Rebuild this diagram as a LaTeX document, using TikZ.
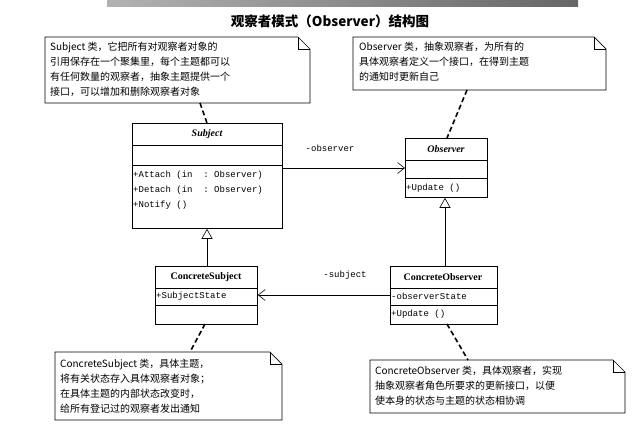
\documentclass[tikz,border=0pt]{standalone}
\usepackage{fontspec}
\setmainfont{Liberation Serif}
\setmonofont{Liberation Mono}
\newfontfamily\cjk{Noto Sans CJK SC}
\usetikzlibrary{arrows.meta,shapes.multipart}
\begin{document}
\begin{tikzpicture}[x=1pt,y=-1pt,
  box/.style={draw,line width=0.8pt,anchor=north west,inner sep=0pt},
  note/.style={draw,line width=0.7pt},
  mem/.style={anchor=west,font=\ttfamily\fontsize{9}{10}\selectfont,inner sep=1pt},
  ttl/.style={anchor=center,font=\bfseries\fontsize{10}{11}\selectfont},
  ntext/.style={anchor=north west,align=left,font=\cjk\fontsize{10}{15}\selectfont,inner sep=0pt},
  dsh/.style={line width=1.6pt,dash pattern=on 5pt off 3pt},
  assoc/.style={line width=0.6pt,-{Straight Barb[length=7pt,width=11pt]}},
  gen/.style={line width=0.6pt,-{Triangle[open,length=10pt,width=11pt]}}]
\useasboundingbox (0,0) rectangle (639,432);
\fill[left color=gray!60,right color=gray!80!black] (107,0) rectangle (578,6);
\node[font=\cjk\bfseries\fontsize{13.5}{15}\selectfont] (title) at (330,21) {观察者模式（\textbf{Observer}）结构图};
\newcommand\notebox[5]{%
  \draw[note] (#1,#2) -- (#3-12,#2) -- (#3,#2+12) -- (#3,#4) -- (#1,#4) -- cycle;
  \draw[note] (#3-12,#2) -- (#3-12,#2+12) -- (#3,#2+12);
  \coordinate (#5) at ({(#1+#3)/2},{(#2+#4)/2});}
\notebox{45}{37}{310}{103}{n1}
\notebox{353}{37}{606}{90}{n2}
\notebox{55}{352}{282}{420}{n3}
\notebox{370}{360}{625}{413}{n4}
\node[ntext] (t1) at (50,42) {Subject 类，它把所有对观察者对象的\\引用保存在一个聚集里，每个主题都可以\\有任何数量的观察者，抽象主题提供一个\\接口，可以增加和删除观察者对象};
\node[ntext] (t2) at (359,42) {Observer 类，抽象观察者，为所有的\\具体观察者定义一个接口，在得到主题\\的通知时更新自己};
\node[ntext] (t3) at (60,359) {ConcreteSubject 类，具体主题，\\将有关状态存入具体观察者对象；\\在具体主题的内部状态改变时，\\给所有登记过的观察者发出通知};
\node[ntext] (t4) at (375,366) {ConcreteObserver 类，具体观察者，实现\\抽象观察者角色所要求的更新接口，以便\\使本身的状态与主题的状态相协调};
% Subject
\node[box,minimum width=150pt,minimum height=105pt] (S) at (132,123) {};
\draw[line width=0.8pt] (132,145) -- (282,145) (132,165) -- (282,165);
\node[ttl,font=\bfseries\itshape\fontsize{10}{11}\selectfont] (Sn) at (207,134) {Subject};
\node[mem] (s1) at (132,175) {+Attach (in\ \ : Observer)};
\node[mem] (s2) at (132,190) {+Detach (in\ \ : Observer)};
\node[mem] (s3) at (132,205) {+Notify ()};
% Observer
\node[box,minimum width=82pt,minimum height=59pt] (O) at (405,138) {};
\draw[line width=0.8pt] (405,160) -- (487,160) (405,178) -- (487,178);
\node[ttl,font=\bfseries\itshape\fontsize{10}{11}\selectfont] (On) at (446,149) {Observer};
\node[mem] (o1) at (405,188) {+Update ()};
% ConcreteSubject
\node[box,minimum width=102pt,minimum height=58pt] (CS) at (155,266) {};
\draw[line width=0.8pt] (155,288) -- (257,288) (155,305) -- (257,305);
\node[ttl] (CSn) at (206,277) {ConcreteSubject};
\node[mem] (cs1) at (155,296) {+SubjectState};
% ConcreteObserver
\node[box,minimum width=107pt,minimum height=58pt] (CO) at (390,266) {};
\draw[line width=0.8pt] (390,288) -- (497,288) (390,305) -- (497,305);
\node[ttl] (COn) at (443,277) {ConcreteObserver};
\node[mem] (co1) at (390,296) {-observerState};
\node[mem] (co2) at (390,314) {+Update ()};
% connectors
\draw[assoc] (S.east |- 0,168) -- (O.west |- 0,168);
\node[font=\ttfamily\fontsize{9}{10}\selectfont] (l1) at (330,148) {-observer};
\draw[assoc] (CO.west |- 0,295) -- (CS.east |- 0,295);
\node[font=\ttfamily\fontsize{9}{10}\selectfont] (l2) at (345,275) {-subject};
\draw[gen] (CS.north -| 207,0) -- (S.south -| 207,0);
\draw[gen] (CO.north -| 445,0) -- (O.south -| 445,0);
\draw[dsh] (200,103) -- (207,123);
\draw[dsh] (467,90) -- (447,138);
\draw[dsh] (205,324) -- (190,352);
\draw[dsh] (447,324) -- (468,360);
\end{tikzpicture}
\end{document}
